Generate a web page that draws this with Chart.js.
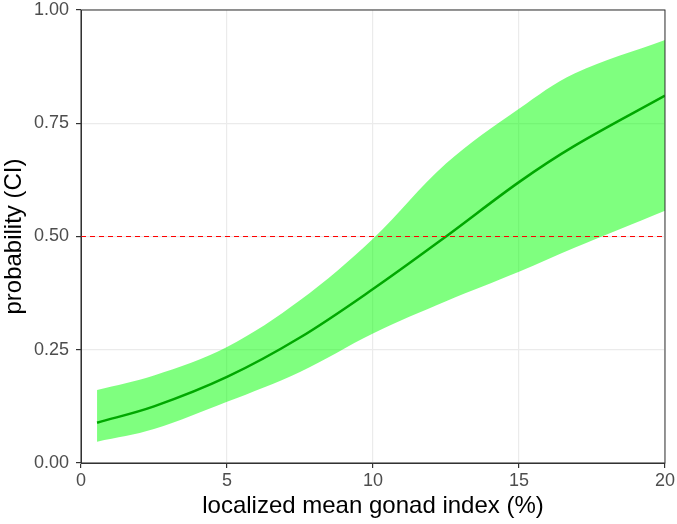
<!DOCTYPE html>
<html>
<head>
<meta charset="utf-8">
<script src="https://cdn.jsdelivr.net/npm/chart.js@4"></script>
<style>
  html, body { margin: 0; padding: 0; background: #fff; }
  #wrap { width: 677px; height: 524px; }
</style>
</head>
<body>
<div id="wrap"><canvas id="probChart"></canvas></div>
<script>
// values
const gonadIndex = [0.55, 2.5, 5, 7.5, 10, 12.5, 15, 16.9, 20];
const probFit    = [0.089, 0.125, 0.190, 0.277, 0.384, 0.500, 0.620, 0.700, 0.811];
const ciUpper    = [0.161, 0.193, 0.256, 0.359, 0.495, 0.661, 0.782, 0.860, 0.934];
const ciLower    = [0.047, 0.075, 0.135, 0.201, 0.286, 0.357, 0.422, 0.475, 0.557];
const refX = [0, 20];
const refY = [0.5, 0.5];

const toPoints = (xs, ys) => xs.map((x, i) => ({ x: x, y: ys[i] }));

// panel border (top/right) like ggplot theme_bw
const panelBorder = {
    id: 'panelBorder',
    afterDatasetsDraw(chart) {
        const { ctx, chartArea: a } = chart;
        ctx.save();
        ctx.strokeStyle = '#333333';
        ctx.lineWidth = 1;
        ctx.strokeRect(a.left, a.top, a.right - a.left, a.bottom - a.top);
        ctx.restore();
    }
};

const tickFont = { family: 'Liberation Sans, Arial, sans-serif', size: 18 };
const titleFont = { family: 'Liberation Sans, Arial, sans-serif', size: 24 };

new Chart(document.getElementById('probChart'), {
    type: 'line',
    data: {
        datasets: [
            {
                label: 'lower',
                data: toPoints(gonadIndex, ciLower),
                borderWidth: 0,
                pointRadius: 0,
                tension: 0.35,
                fill: false,
                order: 4
            },
            {
                label: 'upper',
                data: toPoints(gonadIndex, ciUpper),
                borderWidth: 0,
                pointRadius: 0,
                tension: 0.35,
                backgroundColor: 'rgba(0, 255, 0, 0.5)',
                fill: '-1',
                order: 3
            },
            {
                label: 'reference',
                data: toPoints(refX, refY),
                borderColor: '#FF0000',
                borderWidth: 1.2,
                borderDash: [5, 4],
                pointRadius: 0,
                fill: false,
                order: 1
            },
            {
                label: 'probability',
                data: toPoints(gonadIndex, probFit),
                borderColor: '#00A800',
                borderWidth: 2.5,
                pointRadius: 0,
                tension: 0.35,
                fill: false,
                order: 2
            }
        ]
    },
    options: {
        responsive: true,
        maintainAspectRatio: false,
        animation: false,
        layout: { padding: { top: 0, right: 12, left: 0, bottom: 0 } },
        plugins: {
            legend: { display: false },
            tooltip: { enabled: false }
        },
        scales: {
            x: {
                type: 'linear',
                min: 0,
                max: 20,
                afterFit(scale) { scale.height = 61; },
                ticks: { stepSize: 5, color: '#4D4D4D', font: tickFont, padding: 2 },
                grid: { color: '#EBEBEB', lineWidth: 1.2, tickColor: '#333333', tickLength: 5 },
                border: { display: true, color: '#333333', width: 1 },
                title: {
                    display: true,
                    text: 'localized mean gonad index (%)',
                    color: '#000000',
                    font: titleFont,
                    padding: { top: 2, bottom: 3 }
                }
            },
            y: {
                min: 0,
                max: 1,
                afterFit(scale) {
                    scale.width = 81;
                    scale.paddingTop = 10;
                },
                ticks: {
                    stepSize: 0.25,
                    color: '#4D4D4D',
                    font: tickFont,
                    padding: 7,
                    callback: v => v.toFixed(2)
                },
                grid: { color: '#EBEBEB', lineWidth: 1.2, tickColor: '#333333', tickLength: 5 },
                border: { display: true, color: '#333333', width: 1 },
                title: {
                    display: true,
                    text: 'probability (CI)',
                    color: '#000000',
                    font: titleFont,
                    padding: { top: 0, bottom: 2 }
                }
            }
        }
    },
    plugins: [panelBorder]
});
</script>
</body>
</html>
